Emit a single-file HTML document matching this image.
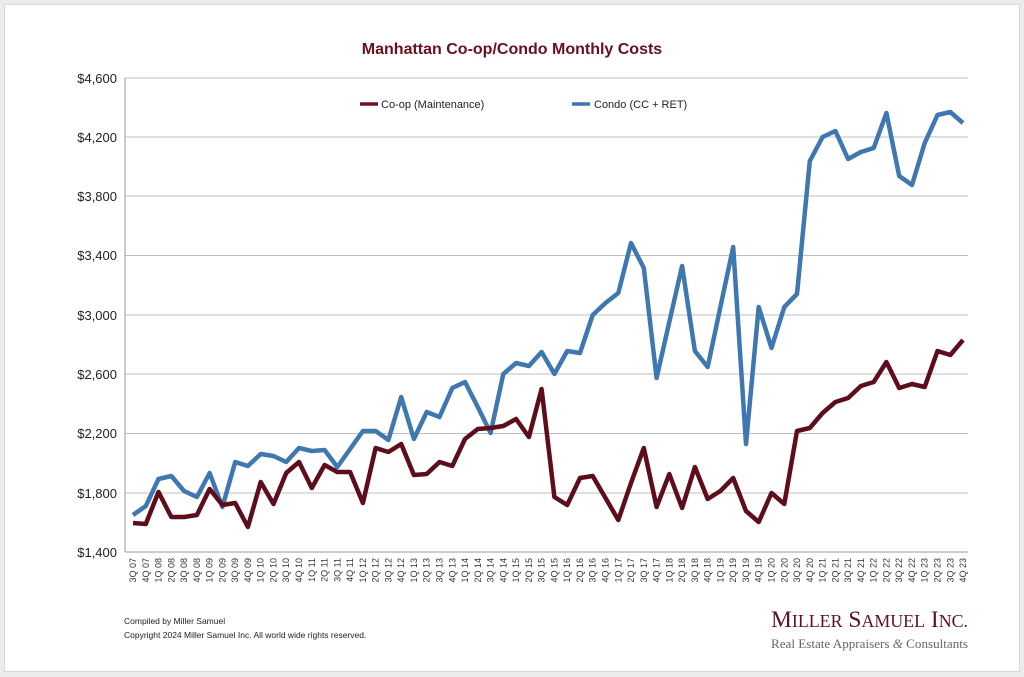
<!DOCTYPE html>
<html><head><meta charset="utf-8"><style>
html,body{margin:0;padding:0;background:#ececec;}
body{width:1024px;height:677px;overflow:hidden;position:relative;font-family:"Liberation Sans",sans-serif;}
.card{position:absolute;left:4px;top:4px;width:1014px;height:666px;background:#fff;border:1px solid #d8d8d8;}
</style></head><body>
<div class="card"></div>
<svg width="1024" height="677" style="position:absolute;left:0;top:0" font-family="Liberation Sans, sans-serif">
<text x="512" y="54" text-anchor="middle" font-size="16" font-weight="bold" fill="#6b0f1f">Manhattan Co-op/Condo Monthly Costs</text>
<g stroke="#bfbfbf" stroke-width="1">
<line x1="125" x2="968" y1="78" y2="78"/><line x1="125" x2="968" y1="137" y2="137"/><line x1="125" x2="968" y1="196" y2="196"/><line x1="125" x2="968" y1="255.5" y2="255.5"/><line x1="125" x2="968" y1="315" y2="315"/><line x1="125" x2="968" y1="374" y2="374"/><line x1="125" x2="968" y1="433.5" y2="433.5"/><line x1="125" x2="968" y1="493" y2="493"/>
</g>
<line x1="125" x2="968" y1="552" y2="552" stroke="#999"/>
<line x1="125" x2="125" y1="78" y2="552" stroke="#999"/>
<g font-size="13" fill="#222" text-anchor="end">
<text x="117" y="83">$4,600</text><text x="117" y="142">$4,200</text><text x="117" y="201">$3,800</text><text x="117" y="260">$3,400</text><text x="117" y="320">$3,000</text><text x="117" y="379">$2,600</text><text x="117" y="438">$2,200</text><text x="117" y="498">$1,800</text><text x="117" y="557">$1,400</text>
</g>
<g stroke="#6b1221" stroke-width="3.5"><line x1="360" x2="378" y1="104" y2="104"/></g>
<g stroke="#3f77b0" stroke-width="3.5"><line x1="572" x2="590" y1="104" y2="104"/></g>
<text x="381" y="108" font-size="11" fill="#222">Co-op (Maintenance)</text>
<text x="594" y="108" font-size="11" fill="#222">Condo (CC + RET)</text>
<polyline fill="none" stroke="#3f77b0" stroke-width="4.5" stroke-linejoin="round" points="133,515 145.8,506 158.5,479 171.3,476 184.1,491 196.9,497 209.6,473 222.4,507 235.2,462 247.9,466 260.7,454 273.5,456 286.2,462 299,448 311.8,451 324.6,450 337.3,467 350.1,449 362.9,431 375.6,431 388.4,440 401.2,397 413.9,439 426.7,412 439.5,417 452.3,388 465,382 477.8,407 490.6,433 503.3,374 516.1,363 528.9,366 541.6,352 554.4,374 567.2,351 580,353 592.7,315 605.5,303 618.3,293 631,243 643.8,268 656.6,378 669.3,322 682.1,266 694.9,351 707.7,367 720.4,307 733.2,247 746,444 758.7,307 771.5,348 784.3,307 797,294 809.8,161 822.6,137 835.4,131 848.1,159 860.9,152 873.7,148 886.4,113 899.2,176 912,185 924.7,143 937.5,115 950.3,112 963,123"/>
<polyline fill="none" stroke="#5e0d1c" stroke-width="4.5" stroke-linejoin="round" points="133,523 145.8,524 158.5,492 171.3,517 184.1,517 196.9,515 209.6,489 222.4,505 235.2,503 247.9,527 260.7,482 273.5,504 286.2,473 299,462 311.8,488 324.6,465 337.3,472 350.1,472 362.9,503 375.6,448 388.4,452 401.2,444 413.9,475 426.7,474 439.5,462 452.3,466 465,439 477.8,429 490.6,428 503.3,426 516.1,419 528.9,437 541.6,389 554.4,497 567.2,505 580,478 592.7,476 605.5,498 618.3,520 631,483 643.8,448 656.6,507 669.3,474 682.1,508 694.9,467 707.7,499 720.4,491 733.2,478 746,511 758.7,522 771.5,493 784.3,504 797,431 809.8,428 822.6,413 835.4,402 848.1,398 860.9,386 873.7,382 886.4,362 899.2,388 912,384 924.7,387 937.5,351 950.3,355 963,340"/>
<g font-size="9" fill="#333" text-anchor="end">
<text transform="translate(136,558) rotate(-90)">3Q 07</text>
<text transform="translate(148.8,558) rotate(-90)">4Q 07</text>
<text transform="translate(161.5,558) rotate(-90)">1Q 08</text>
<text transform="translate(174.3,558) rotate(-90)">2Q 08</text>
<text transform="translate(187.1,558) rotate(-90)">3Q 08</text>
<text transform="translate(199.9,558) rotate(-90)">4Q 08</text>
<text transform="translate(212.6,558) rotate(-90)">1Q 09</text>
<text transform="translate(225.4,558) rotate(-90)">2Q 09</text>
<text transform="translate(238.2,558) rotate(-90)">3Q 09</text>
<text transform="translate(250.9,558) rotate(-90)">4Q 09</text>
<text transform="translate(263.7,558) rotate(-90)">1Q 10</text>
<text transform="translate(276.5,558) rotate(-90)">2Q 10</text>
<text transform="translate(289.2,558) rotate(-90)">3Q 10</text>
<text transform="translate(302,558) rotate(-90)">4Q 10</text>
<text transform="translate(314.8,558) rotate(-90)">1Q 11</text>
<text transform="translate(327.6,558) rotate(-90)">2Q 11</text>
<text transform="translate(340.3,558) rotate(-90)">3Q 11</text>
<text transform="translate(353.1,558) rotate(-90)">4Q 11</text>
<text transform="translate(365.9,558) rotate(-90)">1Q 12</text>
<text transform="translate(378.6,558) rotate(-90)">2Q 12</text>
<text transform="translate(391.4,558) rotate(-90)">3Q 12</text>
<text transform="translate(404.2,558) rotate(-90)">4Q 12</text>
<text transform="translate(416.9,558) rotate(-90)">1Q 13</text>
<text transform="translate(429.7,558) rotate(-90)">2Q 13</text>
<text transform="translate(442.5,558) rotate(-90)">3Q 13</text>
<text transform="translate(455.3,558) rotate(-90)">4Q 13</text>
<text transform="translate(468,558) rotate(-90)">1Q 14</text>
<text transform="translate(480.8,558) rotate(-90)">2Q 14</text>
<text transform="translate(493.6,558) rotate(-90)">3Q 14</text>
<text transform="translate(506.3,558) rotate(-90)">4Q 14</text>
<text transform="translate(519.1,558) rotate(-90)">1Q 15</text>
<text transform="translate(531.9,558) rotate(-90)">2Q 15</text>
<text transform="translate(544.6,558) rotate(-90)">3Q 15</text>
<text transform="translate(557.4,558) rotate(-90)">4Q 15</text>
<text transform="translate(570.2,558) rotate(-90)">1Q 16</text>
<text transform="translate(583,558) rotate(-90)">2Q 16</text>
<text transform="translate(595.7,558) rotate(-90)">3Q 16</text>
<text transform="translate(608.5,558) rotate(-90)">4Q 16</text>
<text transform="translate(621.3,558) rotate(-90)">1Q 17</text>
<text transform="translate(634,558) rotate(-90)">2Q 17</text>
<text transform="translate(646.8,558) rotate(-90)">3Q 17</text>
<text transform="translate(659.6,558) rotate(-90)">4Q 17</text>
<text transform="translate(672.3,558) rotate(-90)">1Q 18</text>
<text transform="translate(685.1,558) rotate(-90)">2Q 18</text>
<text transform="translate(697.9,558) rotate(-90)">3Q 18</text>
<text transform="translate(710.7,558) rotate(-90)">4Q 18</text>
<text transform="translate(723.4,558) rotate(-90)">1Q 19</text>
<text transform="translate(736.2,558) rotate(-90)">2Q 19</text>
<text transform="translate(749,558) rotate(-90)">3Q 19</text>
<text transform="translate(761.7,558) rotate(-90)">4Q 19</text>
<text transform="translate(774.5,558) rotate(-90)">1Q 20</text>
<text transform="translate(787.3,558) rotate(-90)">2Q 20</text>
<text transform="translate(800,558) rotate(-90)">3Q 20</text>
<text transform="translate(812.8,558) rotate(-90)">4Q 20</text>
<text transform="translate(825.6,558) rotate(-90)">1Q 21</text>
<text transform="translate(838.4,558) rotate(-90)">2Q 21</text>
<text transform="translate(851.1,558) rotate(-90)">3Q 21</text>
<text transform="translate(863.9,558) rotate(-90)">4Q 21</text>
<text transform="translate(876.7,558) rotate(-90)">1Q 22</text>
<text transform="translate(889.4,558) rotate(-90)">2Q 22</text>
<text transform="translate(902.2,558) rotate(-90)">3Q 22</text>
<text transform="translate(915,558) rotate(-90)">4Q 22</text>
<text transform="translate(927.7,558) rotate(-90)">1Q 23</text>
<text transform="translate(940.5,558) rotate(-90)">2Q 23</text>
<text transform="translate(953.3,558) rotate(-90)">3Q 23</text>
<text transform="translate(966,558) rotate(-90)">4Q 23</text>
</g>
<text x="124" y="624" font-size="8.5" fill="#222">Compiled by Miller Samuel</text>
<text x="124" y="638" font-size="8.5" fill="#222">Copyright 2024 Miller Samuel Inc.  All world wide rights reserved.</text>
<text x="771" y="627" font-family="Liberation Serif, serif" font-size="23" fill="#5e1220" textLength="197" lengthAdjust="spacingAndGlyphs">M<tspan font-size="17.5">ILLER</tspan> S<tspan font-size="17.5">AMUEL</tspan> I<tspan font-size="17.5">NC.</tspan></text>
<text x="771" y="648" font-family="Liberation Serif, serif" font-size="13" fill="#666" textLength="197" lengthAdjust="spacingAndGlyphs">Real Estate Appraisers <tspan font-style="italic">&amp;</tspan> Consultants</text>
</svg>
</body></html>
